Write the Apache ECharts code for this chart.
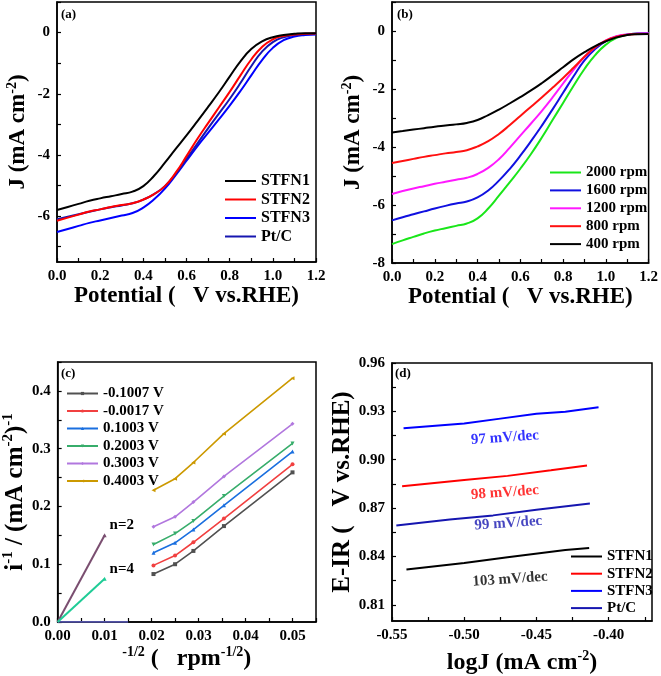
<!DOCTYPE html>
<html>
<head>
<meta charset="utf-8">
<script src="https://cdn.jsdelivr.net/npm/echarts@6/dist/echarts.min.js"></script>
<style>html,body{margin:0;padding:0;background:#fff}#c{width:661px;height:676px}</style>
</head>
<body>
<div id="c"></div>
<script>
// ---------- Panel (a): LSV of catalysts at 1600 rpm ----------
const potentialA = [0,0.05,0.1,0.15,0.2,0.25,0.3,0.35,0.4,0.45,0.5,0.55,0.6,0.65,0.7,0.75,0.8,0.85,0.9,0.95,1.0,1.05,1.1,1.15,1.2];
const jSTFN1 = [-5.80,-5.70,-5.60,-5.50,-5.42,-5.35,-5.28,-5.20,-5.02,-4.68,-4.25,-3.80,-3.36,-2.90,-2.43,-1.95,-1.44,-0.94,-0.54,-0.29,-0.15,-0.08,-0.04,-0.02,-0.02];
const jSTFN2 = [-6.15,-6.05,-5.95,-5.85,-5.78,-5.70,-5.64,-5.58,-5.46,-5.28,-5.02,-4.58,-4.04,-3.48,-2.96,-2.45,-1.94,-1.40,-0.88,-0.47,-0.22,-0.11,-0.06,-0.04,-0.03];
const jSTFN3 = [-6.52,-6.42,-6.32,-6.22,-6.14,-6.06,-5.98,-5.90,-5.72,-5.45,-5.10,-4.66,-4.19,-3.72,-3.28,-2.84,-2.39,-1.91,-1.40,-0.90,-0.50,-0.25,-0.13,-0.08,-0.06];
const jPtC   = [-6.10,-6.02,-5.94,-5.86,-5.78,-5.71,-5.65,-5.58,-5.46,-5.28,-5.02,-4.62,-4.13,-3.63,-3.13,-2.65,-2.17,-1.65,-1.10,-0.62,-0.31,-0.15,-0.08,-0.05,-0.04];

// ---------- Panel (b): LSV at different rotation rates ----------
const potentialB = [0,0.05,0.1,0.15,0.2,0.25,0.3,0.35,0.4,0.45,0.5,0.55,0.6,0.65,0.7,0.75,0.8,0.85,0.9,0.95,1.0,1.05,1.1,1.15,1.2];
const j2000 = [-7.35,-7.22,-7.10,-6.98,-6.88,-6.80,-6.72,-6.64,-6.46,-6.12,-5.68,-5.22,-4.75,-4.24,-3.68,-3.08,-2.48,-1.88,-1.31,-0.83,-0.47,-0.24,-0.13,-0.09,-0.08];
const j1600 = [-6.53,-6.42,-6.32,-6.22,-6.12,-6.03,-5.95,-5.88,-5.74,-5.50,-5.16,-4.76,-4.30,-3.80,-3.27,-2.71,-2.13,-1.55,-1.01,-0.62,-0.35,-0.19,-0.12,-0.09,-0.08];
const j1200 = [-5.62,-5.52,-5.43,-5.35,-5.27,-5.20,-5.13,-5.06,-4.93,-4.72,-4.42,-4.03,-3.61,-3.19,-2.76,-2.30,-1.81,-1.33,-0.89,-0.56,-0.32,-0.18,-0.12,-0.09,-0.08];
const j800  = [-4.55,-4.48,-4.41,-4.34,-4.28,-4.22,-4.17,-4.11,-3.98,-3.80,-3.55,-3.25,-2.93,-2.61,-2.29,-1.96,-1.62,-1.26,-0.89,-0.56,-0.33,-0.20,-0.13,-0.10,-0.10];
const j400  = [-3.50,-3.45,-3.40,-3.35,-3.30,-3.26,-3.22,-3.17,-3.07,-2.90,-2.71,-2.50,-2.28,-2.05,-1.80,-1.53,-1.25,-0.97,-0.73,-0.52,-0.36,-0.22,-0.14,-0.11,-0.10];

// ---------- Panel (c): K-L plots ----------
const klX = [0.0204,0.025,0.0289,0.0354,0.05];
const kl_m01007 = [0.083,0.100,0.123,0.166,0.259];
const kl_m00017 = [0.098,0.115,0.138,0.179,0.273];
const kl_01003  = [0.120,0.137,0.160,0.202,0.295];
const kl_02003  = [0.134,0.153,0.175,0.218,0.309];
const kl_03003  = [0.165,0.182,0.2075,0.252,0.343];
const kl_04003  = [0.228,0.248,0.276,0.326,0.422];
const nLineX = [0,0.01];
const n2Values = [0,0.15];
const n4Values = [0,0.075];
const baseX = [0,0.015];
const baseValues = [0,0];

// ---------- Panel (d): Tafel plots ----------
const logJ_STFN1 = [-0.540,-0.500,-0.470,-0.430,-0.4135];
const eir_STFN1  = [0.8320,0.8360,0.8395,0.8440,0.8452];
const logJ_STFN2 = [-0.543,-0.500,-0.470,-0.440,-0.415];
const eir_STFN2  = [0.8835,0.8875,0.8900,0.8935,0.8965];
const logJ_STFN3 = [-0.542,-0.500,-0.475,-0.450,-0.430,-0.407];
const eir_STFN3  = [0.9195,0.9225,0.9255,0.9285,0.9298,0.9325];
const logJ_PtC   = [-0.547,-0.510,-0.480,-0.450,-0.413];
const eir_PtC    = [0.8592,0.8630,0.8655,0.8690,0.8728];
const tafelText  = ['97 mV/dec','98 mV/dec','99 mV/dec','103 mV/dec'];
const tafelTextX = [-0.4718,-0.4718,-0.4695,-0.4683];
const tafelTextY = [0.9136,0.8796,0.8606,0.8259];

// ---------- Tick labels ----------
const aXLabels = [0,0.2,0.4,0.6,0.8,1.0,1.2];
const aXTicks = [0,0.1,0.2,0.3,0.4,0.5,0.6,0.7,0.8,0.9,1.0,1.1,1.2];
const aYLabels = [-6,-4,-2,0];
const aYTicks = [-7,-6,-5,-4,-3,-2,-1,0,1];
const bYLabels = [-8,-6,-4,-2,0];
const bYTicks = [-8,-7,-6,-5,-4,-3,-2,-1,0,1];
const cXLabels = [0,0.01,0.02,0.03,0.04,0.05];
const cXTicks = [0,0.005,0.01,0.015,0.02,0.025,0.03,0.035,0.04,0.045,0.05,0.055];
const cYLabels = [0,0.1,0.2,0.3,0.4];
const cYTicks = [0,0.05,0.1,0.15,0.2,0.25,0.3,0.35,0.4,0.45];
const dXLabels = [-0.55,-0.5,-0.45,-0.4];
const dXTicks = [-0.55,-0.525,-0.5,-0.475,-0.45,-0.425,-0.4,-0.375];
const dYLabels = [0.81,0.84,0.87,0.9,0.93,0.96];
const dYTicks = [0.81,0.825,0.84,0.855,0.87,0.885,0.9,0.915,0.93,0.945,0.96];

// ---------- helpers ----------
const FONT = 'Liberation Serif';
const zip = (xs, ys) => xs.map((x, i) => [x, ys[i]]);

const TITLE = 23;
const rich = (size) => ({
  b: {fontFamily: FONT, fontWeight: 'bold', fontSize: size, color: '#000', lineHeight: size + 4},
  s: {fontFamily: FONT, fontWeight: 'bold', fontSize: Math.round(size * 0.6), color: '#000', verticalAlign: 'top', lineHeight: Math.round(size * 0.6)}
});

function axis(grid, min, max, labels, ticks, dec, name, nameGap, nameSize) {
  return {
    type: 'value', gridIndex: grid, min: min, max: max,
    axisLine: {show: true, onZero: false, lineStyle: {color: '#000', width: 1.5}},
    axisTick: {show: true, inside: true, length: 4, customValues: ticks, lineStyle: {color: '#000', width: 1.2}},
    axisLabel: {customValues: labels, formatter: v => (+v).toFixed(dec), fontFamily: FONT, fontWeight: 'bold', fontSize: 15, color: '#000', margin: 7},
    splitLine: {show: false},
    name: name, nameLocation: 'middle', nameGap: nameGap,
    nameTextStyle: {rich: rich(nameSize)}
  };
}

function line(name, xi, xs, ys, color, width, smooth) {
  return {
    type: 'line', name: name, xAxisIndex: xi, yAxisIndex: xi,
    data: zip(xs, ys), symbol: 'none', smooth: smooth,
    lineStyle: {color: color, width: width}, itemStyle: {color: color},
    silent: true, z: 3
  };
}

function kl(name, ys, color, symbol, rot) {
  return {
    type: 'line', name: name, xAxisIndex: 2, yAxisIndex: 2,
    data: zip(klX, ys), symbol: symbol, symbolSize: 4, symbolRotate: rot || 0,
    lineStyle: {color: color, width: 1.6}, itemStyle: {color: color},
    silent: true, z: 3
  };
}

const legendText = (size) => ({fontFamily: FONT, fontWeight: 'bold', fontSize: size, color: '#000', lineHeight: size + 2});

const C = {
  STFN1: '#000000', STFN2: '#ff0000', STFN3: '#0000ff', PtC: '#1616b0',
  r2000: '#19e619', r1600: '#1010e0', r1200: '#ff19ff', r800: '#ff1010', r400: '#000000'
};

const nEnd = (ys, label) => zip(nLineX, ys).map((p, i) => i === ys.length - 1 ? {value: p, symbol: 'triangle', symbolSize: 4, label: {show: true, formatter: label, position: 'right', offset: [-2, -10], fontFamily: FONT, fontWeight: 'bold', fontSize: 15, color: '#000'}} : {value: p});

const option = {
  animation: false,
  backgroundColor: '#fff',
  grid: [
    {left: 57, top: 2, width: 259, height: 260, show: true, borderColor: '#000', borderWidth: 1.5},
    {left: 392, top: 2, width: 259, height: 261, show: true, borderColor: '#000', borderWidth: 1.5},
    {left: 56, top: 362, width: 260, height: 260, show: true, borderColor: '#000', borderWidth: 1.5},
    {left: 392, top: 363, width: 260, height: 259, show: true, borderColor: '#000', borderWidth: 1.5}
  ],
  xAxis: [
    axis(0, 0, 1.2, aXLabels, aXTicks, 1, '{b|Potential (   V vs.RHE)}', 15, TITLE),
    axis(1, 0, 1.2, aXLabels, aXTicks, 1, '{b|Potential (   V vs.RHE)}', 15, TITLE),
    axis(2, 0, 0.055, cXLabels, cXTicks, 2, '{s|-1/2}{b| (   rpm}{s|-1/2}{b|)}', 20, 24),
    axis(3, -0.55, -0.37, dXLabels, dXTicks, 2, '{b|logJ (mA cm}{s|-2}{b|)}', 28, 24)
  ],
  yAxis: [
    axis(0, -7.5, 1, aYLabels, aYTicks, 0, '{b|J (mA cm}{s|-2}{b|)}', 25, TITLE),
    axis(1, -8, 1, bYLabels, bYTicks, 0, '{b|J (mA cm}{s|-2}{b|)}', 25, TITLE),
    axis(2, 0, 0.45, cYLabels, cYTicks, 1, '{b|i}{s|-1}{b| / (mA cm}{s|-2}{b|)}{s|-1}', 27, 25),
    axis(3, 0.80, 0.96, dYLabels, dYTicks, 2, '{b|E-IR (   V vs.RHE)}', 26, 25)
  ],
  legend: [
    {left: 225, top: 172, orient: 'vertical', padding: 0, itemGap: 0.5, itemWidth: 31, itemHeight: 2, icon: 'rect', selectedMode: false,
     data: ['STFN1','STFN2','STFN3','Pt/C'], textStyle: legendText(16)},
    {left: 550, top: 164, orient: 'vertical', padding: 0, itemGap: 0.9, itemWidth: 31, itemHeight: 2, icon: 'rect', selectedMode: false,
     data: ['2000 rpm','1600 rpm','1200 rpm','800 rpm','400 rpm'], textStyle: legendText(15)},
    {left: 66, top: 385, orient: 'vertical', padding: 0, itemGap: 0.5, itemWidth: 31, itemHeight: 4, selectedMode: false,
     data: ['-0.1007 V','-0.0017 V','0.1003 V','0.2003 V','0.3003 V','0.4003 V'], textStyle: legendText(15)},
    {left: 571, top: 548, orient: 'vertical', padding: 0, itemGap: 0.2, itemWidth: 31, itemHeight: 2, icon: 'rect', selectedMode: false,
     data: ['STFN1 ','STFN2 ','STFN3 ','Pt/C '], textStyle: legendText(15)}
  ],
  graphic: [
    {type: 'text', left: 61, top: 8, style: {text: '(a)', font: 'bold 13px "Liberation Serif"', fill: '#000'}},
    {type: 'text', left: 397, top: 8, style: {text: '(b)', font: 'bold 13px "Liberation Serif"', fill: '#000'}},
    {type: 'text', left: 61, top: 367, style: {text: '(c)', font: 'bold 13px "Liberation Serif"', fill: '#000'}},
    {type: 'text', left: 395, top: 367, style: {text: '(d)', font: 'bold 13px "Liberation Serif"', fill: '#000'}}
  ],
  series: [
    // (a)
    line('STFN3', 0, potentialA, jSTFN3, C.STFN3, 2, 0.5),
    line('Pt/C', 0, potentialA, jPtC, C.PtC, 2, 0.5),
    line('STFN2', 0, potentialA, jSTFN2, C.STFN2, 2, 0.5),
    line('STFN1', 0, potentialA, jSTFN1, C.STFN1, 2, 0.5),
    // (b)
    line('2000 rpm', 1, potentialB, j2000, C.r2000, 2, 0.5),
    line('1600 rpm', 1, potentialB, j1600, C.r1600, 2, 0.5),
    line('1200 rpm', 1, potentialB, j1200, C.r1200, 2, 0.5),
    line('800 rpm', 1, potentialB, j800, C.r800, 2, 0.5),
    line('400 rpm', 1, potentialB, j400, C.r400, 2, 0.5),
    // (c)
    kl('-0.1007 V', kl_m01007, '#515151', 'rect'),
    kl('-0.0017 V', kl_m00017, '#F14040', 'circle'),
    kl('0.1003 V', kl_01003, '#1A6FDF', 'triangle'),
    kl('0.2003 V', kl_02003, '#37AD6B', 'triangle', 180),
    kl('0.3003 V', kl_03003, '#B177DE', 'diamond'),
    kl('0.4003 V', kl_04003, '#CC9900', 'triangle', 90),
    {type: 'line', name: 'base', xAxisIndex: 2, yAxisIndex: 2, data: zip(baseX, baseValues), symbol: 'none',
     lineStyle: {color: '#6a6ad8', width: 1.6}, silent: true, z: 2},
    {type: 'line', name: 'n=2', xAxisIndex: 2, yAxisIndex: 2, data: nEnd(n2Values, 'n=2'), symbol: 'none',
     lineStyle: {color: '#7a4e70', width: 2}, itemStyle: {color: '#7a4e70'}, silent: true, z: 3},
    {type: 'line', name: 'n=4', xAxisIndex: 2, yAxisIndex: 2, data: nEnd(n4Values, 'n=4'), symbol: 'none',
     lineStyle: {color: '#1fcc96', width: 2}, itemStyle: {color: '#1fcc96'}, silent: true, z: 3},
    // (d)
    line('STFN1 ', 3, logJ_STFN1, eir_STFN1, C.STFN1, 2, false),
    line('STFN2 ', 3, logJ_STFN2, eir_STFN2, C.STFN2, 2, false),
    line('STFN3 ', 3, logJ_STFN3, eir_STFN3, C.STFN3, 2, false),
    line('Pt/C ', 3, logJ_PtC, eir_PtC, C.PtC, 2, false),
    {type: 'scatter', name: 'tafel', xAxisIndex: 3, yAxisIndex: 3, symbolSize: 0, silent: true,
     data: tafelText.map((t, i) => ({value: [tafelTextX[i], tafelTextY[i]], name: t,
       label: {color: [C.STFN3, C.STFN2, C.PtC, '#000000'][i]}})),
     label: {show: true, position: 'inside', formatter: p => p.name, rotate: 4, fontFamily: FONT, fontWeight: 'bold', fontSize: 15, textBorderWidth: 0}}
  ]
};

const chart = echarts.init(document.getElementById('c'), null, {renderer: 'canvas'});
chart.setOption(option);
</script>
</body>
</html>
